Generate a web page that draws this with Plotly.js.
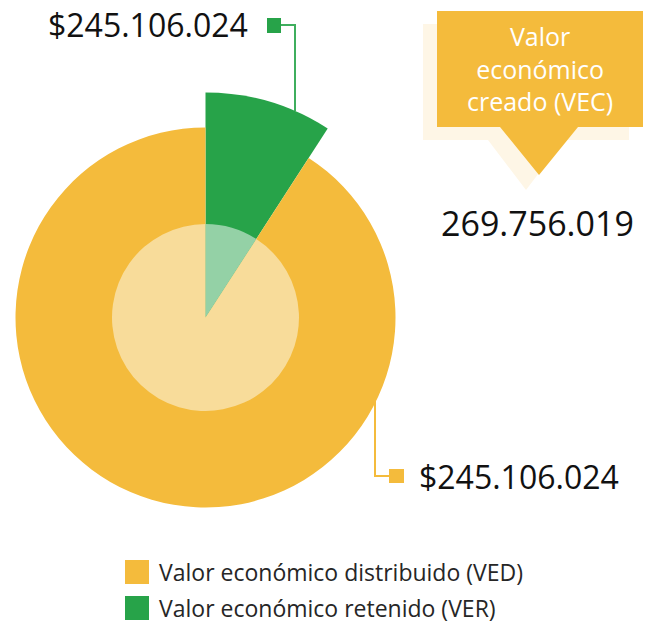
<!DOCTYPE html>
<html>
<head>
<meta charset="utf-8">
<script src="https://cdn.plot.ly/plotly-3.0.1.min.js"></script>
<style>
  html, body { margin: 0; padding: 0; background: #ffffff; overflow: hidden; }
  #chart { position: absolute; left: -40px; top: 0; width: 685px; height: 624px; }
</style>
</head>
<body>
<div id="chart"></div>
<script>
// ---- data ----
var categories = ['Valor económico distribuido (VED)', 'Valor económico retenido (VER)'];
var values = [245106024, 24649995];
var sliceLabels = ['$245.106.024', '$245.106.024'];
var totalLabel = '269.756.019';
var calloutLines = ['Valor', 'económico', 'creado (VEC)'];

// ---- style ----
var YEL = '#F4BB3C', GRN = '#27A349';
var YEL_L = '#F8DC9A', GRN_L = '#94D1A6';
var NONE = 'rgba(0,0,0,0)';
var FONT = 'Open Sans, sans-serif';

var OFF = 40, W = 685, H = 624;
function px(x) { return (x + OFF) / W; }
function py(y) { return 1 - y / H; }
var CX = 205.5, CY = 317.5;
function dom(r) {
  return { x: [px(CX - r), px(CX + r)], y: [py(CY + r), py(CY - r)] };
}

var total = values[0] + values[1];
var rot = 360 * values[1] / total;

function pie(r, colors) {
  return {
    type: 'pie', labels: categories, values: values, sort: false,
    direction: 'clockwise', rotation: rot, domain: dom(r),
    marker: { colors: colors, line: { width: 0 } },
    textinfo: 'none', hoverinfo: 'label+value', showlegend: false
  };
}

var data = [
  pie(225, [NONE, GRN]),
  pie(190, [YEL, NONE]),
  pie(93.5, [YEL_L, GRN_L])
];

function P(pts) {
  return 'M' + pts.map(function (p) { return px(p[0]) + ',' + py(p[1]); }).join(' L') + ' Z';
}
function line(pts) {
  return 'M' + pts.map(function (p) { return px(p[0]) + ',' + py(p[1]); }).join(' L');
}
function rect(x0, y0, x1, y1, color) {
  return { type: 'rect', xref: 'paper', yref: 'paper', x0: px(x0), x1: px(x1), y0: py(y1), y1: py(y0),
           fillcolor: color, line: { width: 0 }, layer: 'above' };
}

var shapes = [
  // callout shadow
  { type: 'path', xref: 'paper', yref: 'paper', layer: 'below',
    path: P([[423, 24], [629, 24], [629, 140], [564, 140], [526, 190], [488, 140], [423, 140]]),
    fillcolor: '#FEF6E6', line: { width: 0 } },
  // callout box
  { type: 'path', xref: 'paper', yref: 'paper', layer: 'below',
    path: P([[437, 11], [643, 11], [643, 127], [578, 127], [539, 175], [500, 127], [437, 127]]),
    fillcolor: YEL, line: { width: 0 } },
  // green connector
  { type: 'path', xref: 'paper', yref: 'paper', layer: 'above',
    path: line([[281, 25], [295, 25], [295, 111]]),
    line: { color: '#3FAE5E', width: 2 } },
  rect(267, 18, 281, 33, GRN),
  // yellow connector
  { type: 'path', xref: 'paper', yref: 'paper', layer: 'above',
    path: line([[375, 396], [375, 476], [389, 476]]),
    line: { color: YEL, width: 2 } },
  rect(389, 469, 404, 483, YEL),
  // legend squares
  rect(125, 560, 149, 584, YEL),
  rect(125, 596, 149, 620, GRN)
];

function ann(text, x, y, size, color, xanchor) {
  return { text: text, xref: 'paper', yref: 'paper', x: px(x), y: py(y), xanchor: xanchor, yanchor: 'middle',
           showarrow: false, font: { family: FONT, size: size, color: color } };
}

var annotations = [
  ann(sliceLabels[1], 250, 25, 32, '#111111', 'right'),
  ann(sliceLabels[0], 417, 477, 32, '#111111', 'left'),
  ann(calloutLines.join('<br>'), 540, 68, 25, '#FFFFFF', 'center'),
  ann(totalLabel, 537, 223, 34, '#111111', 'center'),
  ann(categories[0], 157, 572, 23, '#262626', 'left'),
  ann(categories[1], 157, 608, 23, '#262626', 'left')
];

var layout = {
  width: W, height: H,
  margin: { l: 0, r: 0, t: 0, b: 0 },
  paper_bgcolor: '#ffffff',
  showlegend: false,
  shapes: shapes,
  annotations: annotations
};

Plotly.newPlot('chart', data, layout, { displayModeBar: false, staticPlot: true });
</script>
</body>
</html>
